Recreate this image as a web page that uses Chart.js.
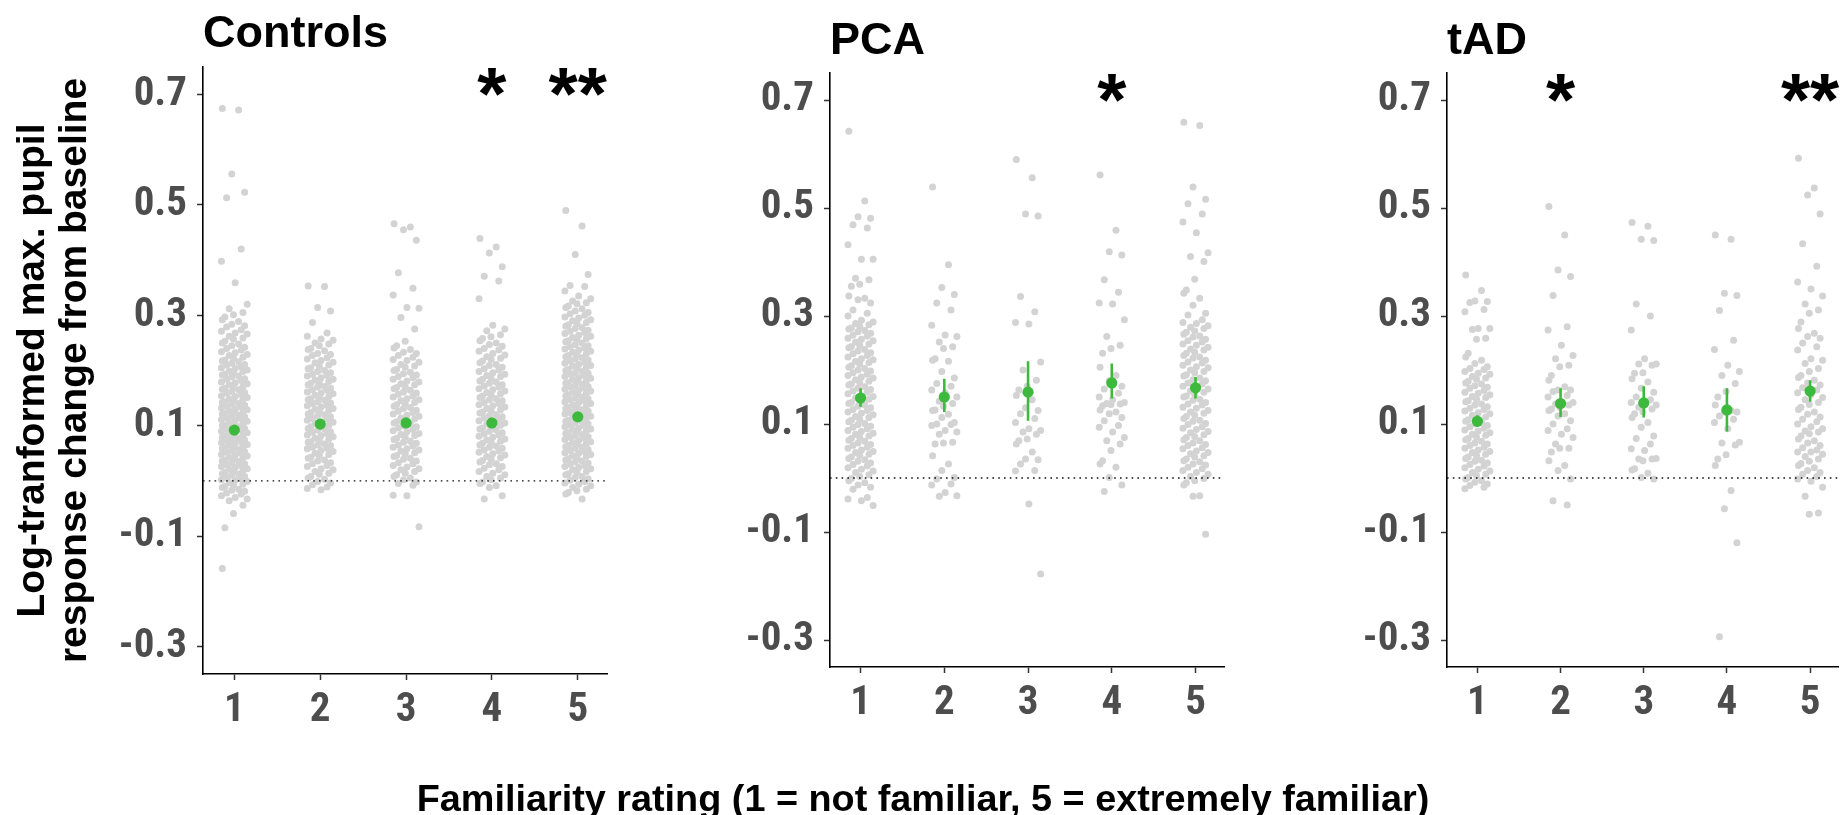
<!DOCTYPE html>
<html><head><meta charset="utf-8">
<script src="https://cdn.jsdelivr.net/npm/chart.js@4.4.1/dist/chart.umd.min.js"></script>
<style>
html,body{margin:0;padding:0;background:#fff;width:1844px;height:815px;overflow:hidden;}
body{position:relative;}
canvas{position:absolute;top:0;}
#xtitle{position:absolute;left:0;top:779px;width:1846px;text-align:center;font:bold 37.8px/38px "Liberation Sans",Arial,sans-serif;color:#000;white-space:nowrap;}
</style></head><body>
<canvas id="c0" width="640" height="815" style="left:0px"></canvas>
<canvas id="c1" width="600" height="815" style="left:640px"></canvas>
<canvas id="c2" width="604" height="815" style="left:1240px"></canvas>
<div id="xtitle">Familiarity rating (1 = not familiar, 5 = extremely familiar)</div>
<script>
// ---------- data ----------
const categories = [1, 2, 3, 4, 5];
const xTickLabels = ["1", "2", "3", "4", "5"];
const yTicks = [-0.3, -0.1, 0.1, 0.3, 0.5, 0.7];
const yTickLabels = ["-0.3", "-0.1", "0.1", "0.3", "0.5", "0.7"];
const panelTitles = ["Controls", "PCA", "tAD"];
const yTitleLines = ["Log-tranformed max. pupil", "response change from baseline"];
const xTitle = "Familiarity rating (1 = not familiar, 5 = extremely familiar)";
const starY = 0.726;
const jitter = [-0.14, 0.05, -0.03, 0.12, -0.09, 0.08, -0.15, 0.01, 0.15, -0.06, 0.10, -0.01, -0.11];

// Controls
const ctrlMean = [0.092, 0.103, 0.105, 0.105, 0.116];
const ctrlLo = [0.086, 0.097, 0.098, 0.098, 0.110];
const ctrlHi = [0.098, 0.109, 0.112, 0.112, 0.122];
const ctrlStars = ["", "", "", "*", "**"];
const ctrl1 = [.675,.672,.556,.523,.513,.42,.398,.359,.32,.312,.305,.301,.297,.292,.289,.284,.281,.279,.274,.271,.268,.266,.262,.259,.257,.253,.25,.248,.245,.242,.24,.237,.234,.232,.229,.227,.224,.222,.219,.217,.216,.213,.211,.21,.207,.205,.204,.201,.199,.198,.196,.193,.192,.19,.188,.185,.184,.182,.179,.178,.176,.174,.171,.17,.168,.166,.165,.162,.16,.159,.157,.154,.153,.151,.149,.148,.146,.143,.142,.14,.139,.137,.135,.134,.132,.13,.129,.127,.125,.124,.122,.121,.119,.117,.116,.114,.113,.111,.109,.108,.106,.105,.103,.101,.1,.098,.097,.095,.093,.092,.09,.089,.087,.085,.084,.082,.081,.079,.077,.076,.074,.073,.071,.069,.068,.066,.065,.063,.061,.06,.058,.057,.055,.053,.052,.05,.048,.047,.045,.043,.042,.04,.038,.036,.035,.033,.031,.029,.028,.026,.024,.022,.021,.019,.017,.015,.013,.012,.01,.008,.006,.004,.002,.001,-.001,-.003,-.006,-.008,-.01,-.012,-.015,-.017,-.019,-.022,-.024,-.027,-.03,-.033,-.036,-.044,-.059,-.085,-.159];
const ctrl2 = [.353,.352,.314,.308,.287,.268,.262,.257,.255,.25,.248,.245,.24,.238,.236,.231,.229,.227,.223,.221,.218,.215,.214,.21,.208,.205,.203,.2,.198,.196,.193,.191,.19,.187,.184,.183,.18,.178,.177,.174,.171,.17,.168,.165,.164,.161,.159,.158,.155,.153,.152,.149,.147,.146,.143,.141,.14,.137,.136,.134,.131,.13,.128,.125,.124,.121,.12,.118,.116,.113,.112,.11,.107,.106,.104,.101,.1,.098,.095,.094,.092,.089,.088,.086,.083,.082,.08,.077,.076,.074,.071,.07,.067,.065,.064,.061,.059,.058,.055,.053,.05,.048,.046,.043,.041,.038,.036,.033,.031,.028,.026,.022,.02,.017,.014,.012,.008,.005,.003,-.001,-.004,-.007,-.011,-.014,-.016];
const ctrl3 = [.466,.46,.455,.436,.377,.349,.337,.314,.313,.296,.275,.253,.245,.241,.238,.233,.231,.227,.224,.22,.218,.215,.211,.208,.206,.202,.2,.197,.194,.192,.189,.187,.184,.181,.179,.176,.174,.171,.169,.167,.164,.161,.159,.157,.154,.152,.149,.147,.145,.142,.14,.138,.135,.133,.131,.128,.126,.124,.121,.119,.117,.114,.112,.11,.107,.105,.103,.1,.098,.096,.093,.091,.089,.086,.084,.082,.079,.077,.075,.072,.07,.068,.065,.063,.061,.058,.056,.054,.051,.049,.046,.044,.041,.039,.036,.033,.031,.028,.025,.022,.02,.017,.014,.011,.008,.005,.002,-.002,-.005,-.008,-.026,-.027,-.083];
const ctrl4 = [.439,.424,.413,.388,.371,.362,.33,.282,.275,.272,.265,.261,.258,.254,.25,.247,.244,.24,.237,.235,.231,.228,.225,.222,.22,.217,.214,.211,.209,.206,.203,.201,.198,.196,.193,.191,.189,.186,.184,.181,.179,.177,.174,.172,.17,.167,.165,.163,.16,.158,.156,.154,.151,.149,.147,.145,.142,.14,.138,.136,.134,.131,.129,.127,.125,.123,.12,.118,.116,.114,.112,.109,.107,.105,.103,.101,.098,.096,.094,.092,.09,.087,.085,.083,.081,.079,.076,.074,.072,.07,.068,.065,.063,.061,.059,.056,.054,.052,.049,.047,.044,.042,.039,.037,.034,.031,.029,.026,.023,.02,.017,.014,.011,.008,.005,.002,-.002,-.005,-.009,-.012,-.027,-.033];
const ctrl5 = [.49,.462,.41,.374,.354,.352,.344,.335,.33,.326,.323,.321,.317,.314,.312,.308,.305,.303,.3,.297,.295,.292,.29,.287,.285,.283,.28,.278,.276,.273,.271,.269,.267,.264,.262,.26,.258,.256,.254,.252,.25,.247,.245,.243,.241,.239,.237,.235,.233,.231,.229,.227,.225,.223,.221,.219,.217,.215,.213,.211,.209,.208,.206,.204,.202,.2,.198,.196,.195,.193,.191,.189,.187,.186,.184,.182,.18,.178,.177,.175,.173,.171,.17,.168,.166,.164,.163,.161,.159,.157,.156,.154,.152,.15,.149,.147,.145,.143,.142,.14,.138,.136,.135,.133,.131,.129,.128,.126,.124,.122,.121,.119,.117,.115,.114,.112,.11,.108,.107,.105,.103,.101,.1,.098,.096,.094,.093,.091,.089,.087,.086,.084,.082,.08,.079,.077,.075,.073,.071,.07,.068,.066,.064,.062,.061,.059,.057,.055,.053,.051,.05,.048,.046,.044,.042,.04,.038,.036,.034,.032,.03,.028,.026,.024,.022,.02,.017,.015,.013,.011,.008,.006,.004,.001,-.001,-.004,-.006,-.009,-.012,-.015,-.018,-.021,-.024,-.033];

// PCA
const pcaMean = [0.148, 0.150, 0.159, 0.176, 0.167];
const pcaLo = [0.132, 0.122, 0.106, 0.147, 0.147];
const pcaHi = [0.166, 0.184, 0.216, 0.212, 0.187];
const pcaStars = ["", "", "", "*", ""];
const pca1 = [.642,.513,.484,.481,.469,.463,.432,.405,.405,.37,.367,.359,.355,.337,.333,.33,.324,.311,.305,.3,.292,.289,.286,.284,.281,.278,.276,.273,.271,.268,.265,.263,.259,.257,.254,.252,.248,.246,.243,.241,.238,.235,.232,.23,.227,.224,.221,.219,.216,.214,.211,.208,.205,.203,.2,.198,.195,.192,.19,.187,.185,.182,.179,.177,.174,.172,.169,.166,.164,.161,.159,.156,.153,.151,.148,.146,.143,.14,.138,.135,.133,.13,.127,.125,.122,.12,.117,.114,.112,.109,.107,.104,.101,.099,.096,.094,.091,.088,.086,.083,.081,.078,.075,.073,.07,.068,.065,.062,.06,.057,.055,.052,.049,.047,.044,.042,.039,.036,.034,.031,.028,.025,.022,.019,.016,.013,.01,.006,.003,-.001,-.005,-.009,-.013,-.017,-.021,-.036,-.039,-.042,-.051];
const pca2 = [.539,.395,.353,.34,.324,.311,.283,.265,.262,.252,.243,.24,.221,.218,.216,.197,.185,.175,.17,.163,.158,.15,.142,.138,.133,.126,.125,.118,.112,.103,.1,.099,.097,.088,.085,.081,.066,.065,.063,.041,.026,.014,.001,-.002,-.011,-.013,-.027,-.033,-.034];
const pca3 = [.59,.556,.489,.485,.336,.308,.288,.285,.215,.2,.181,.17,.163,.153,.145,.13,.125,.119,.11,.103,.091,.088,.085,.081,.072,.069,.063,.048,.035,.034,.026,.014,.013,-.048,-.178];
const pca4 = [.561,.459,.419,.413,.367,.344,.324,.322,.293,.262,.246,.24,.231,.205,.19,.18,.17,.165,.157,.15,.145,.14,.138,.137,.136,.134,.126,.122,.119,.112,.106,.097,.094,.085,.075,.069,.063,.051,.032,.026,.02,.001,-.013,-.025];
const pca5 = [.659,.653,.539,.516,.508,.489,.474,.454,.417,.41,.401,.368,.348,.342,.333,.32,.305,.302,.293,.288,.286,.282,.279,.277,.272,.27,.266,.263,.261,.257,.254,.252,.248,.246,.242,.239,.237,.233,.231,.227,.224,.222,.218,.215,.213,.209,.206,.204,.2,.197,.195,.191,.189,.185,.182,.18,.176,.174,.17,.167,.165,.161,.159,.155,.152,.15,.146,.144,.14,.137,.135,.131,.129,.125,.122,.12,.116,.114,.11,.107,.105,.101,.099,.095,.092,.09,.086,.084,.08,.077,.075,.071,.069,.065,.062,.06,.056,.054,.05,.047,.045,.041,.039,.035,.032,.03,.026,.024,.02,.017,.014,.01,.007,.003,-.001,-.005,-.009,-.013,-.033,-.034,-.104];

// tAD
const tadMean = [0.105, 0.138, 0.139, 0.126, 0.161];
const tadLo = [0.095, 0.113, 0.112, 0.086, 0.141];
const tadHi = [0.116, 0.166, 0.170, 0.166, 0.181];
const tadStars = ["", "*", "", "", "**"];
const tad1 = [.376,.347,.328,.327,.325,.312,.308,.277,.277,.275,.259,.257,.231,.224,.218,.212,.206,.203,.201,.197,.194,.192,.188,.185,.183,.179,.176,.174,.171,.168,.166,.162,.159,.157,.154,.151,.149,.146,.143,.141,.137,.135,.132,.129,.127,.124,.121,.119,.116,.113,.111,.108,.105,.103,.1,.097,.095,.092,.089,.087,.084,.081,.079,.076,.073,.071,.068,.065,.063,.06,.057,.055,.052,.049,.047,.044,.041,.039,.036,.033,.031,.028,.025,.022,.019,.016,.013,.01,.007,.004,.001,-.002,-.005,-.008,-.011,-.014,-.017,-.02];
const tad2 = [.503,.45,.385,.373,.338,.28,.274,.246,.227,.221,.209,.206,.19,.181,.169,.163,.163,.16,.153,.15,.141,.14,.137,.135,.131,.128,.125,.119,.115,.106,.1,.091,.088,.081,.075,.063,.055,.055,.048,.032,.023,.014,-.002,-.042,-.05];
const tad3 = [.473,.466,.442,.44,.322,.3,.274,.221,.211,.211,.209,.195,.194,.184,.178,.166,.159,.15,.145,.14,.138,.135,.131,.128,.122,.119,.112,.103,.094,.078,.073,.063,.054,.051,.036,.035,.035,.032,.017,.015,.009,.001,-.002];
const tad4 = [.45,.442,.342,.338,.31,.255,.238,.209,.197,.19,.175,.16,.15,.135,.125,.122,.122,.115,.109,.103,.091,.066,.065,.061,.043,.035,.023,-.023,-.057,-.12,-.294];
const tad5 = [.592,.537,.524,.489,.434,.392,.363,.35,.337,.322,.311,.305,.289,.277,.268,.262,.259,.25,.243,.237,.221,.218,.212,.203,.197,.19,.186,.181,.176,.172,.167,.163,.158,.154,.149,.145,.14,.136,.131,.127,.122,.118,.113,.109,.104,.1,.095,.091,.087,.085,.082,.078,.072,.069,.065,.06,.056,.052,.048,.048,.044,.04,.035,.031,.027,.023,.019,.014,.01,.007,.003,-.002,-.006,-.017,-.034,-.065,-.067];

// ---------- rendering ----------
const X_MIN = 0.635, X_MAX = 5.34, Y_MIN = -0.35, Y_MAX = 0.75;
const GREEN = '#3DBA3D', GREY = '#D3D3D3';
const FONT = '"Liberation Sans", Arial, sans-serif';
Chart.defaults.font.family = FONT;

// pick a condensed bold face for the tick labels if one is installed
function pickNarrow() {
  const c = document.createElement('canvas').getContext('2d');
  const probe = '0.7 -0.3 12345';
  c.font = 'bold 41px monospace';
  const base = c.measureText(probe).width;
  const cands = ['Liberation Sans Narrow', 'Arial Narrow', 'Noto Sans Condensed', 'Roboto Condensed', 'Open Sans Condensed', 'Noto Sans Display Condensed'];
  for (const f of cands) {
    c.font = 'bold 41px "' + f + '", monospace';
    if (Math.abs(c.measureText(probe).width - base) > 0.5) return f;
  }
  return null;
}
const narrow = pickNarrow();
const tickFont = narrow ? { family: '"' + narrow + '", ' + FONT, size: 41, weight: 'bold' }
                        : { family: FONT, size: 36, weight: 'bold' };

const annot = {
  id: 'annot',
  afterDraw(chart) {
    const o = chart.options.plugins.annot;
    const ctx = chart.ctx, a = chart.chartArea, xs = chart.scales.x, ys = chart.scales.y;
    ctx.save();
    ctx.fillStyle = '#000';
    ctx.textAlign = 'left'; ctx.textBaseline = 'alphabetic';
    ctx.font = 'bold 45px ' + FONT;
    ctx.fillText(o.title, a.left, o.titleY);
    ctx.font = 'bold 75px ' + FONT;
    ctx.textAlign = 'center';
    o.stars.forEach((s, i) => { if (s) ctx.fillText(s, xs.getPixelForValue(categories[i]), ys.getPixelForValue(starY) + 39); });
    if (o.ytitle) {
      ctx.translate(0, (a.top + a.bottom) / 2);
      ctx.rotate(-Math.PI / 2);
      ctx.font = 'bold 39px ' + FONT;
      ctx.fillText(o.ytitle[0], 0, 44);
      ctx.fillText(o.ytitle[1], 0, 86);
    }
    ctx.restore();
  }
};

function makePanel(id, spec) {
  const gray = [];
  spec.pts.forEach((arr, i) => arr.forEach((v, j) => gray.push({ x: categories[i] + jitter[j % jitter.length], y: v })));
  const errs = [];
  categories.forEach((c, i) => { errs.push({ x: c, y: spec.lo[i] }, { x: c, y: spec.hi[i] }, { x: c, y: null }); });
  const means = categories.map((c, i) => ({ x: c, y: spec.mean[i] }));
  new Chart(document.getElementById(id), {
    type: 'scatter',
    data: { datasets: [
      { data: means, pointRadius: 5.6, backgroundColor: GREEN, borderWidth: 0, order: 1 },
      { type: 'line', data: errs, borderColor: GREEN, borderWidth: 2.6, pointRadius: 0, spanGaps: false, order: 2 },
      { type: 'line', data: [{ x: X_MIN, y: 0 }, { x: X_MAX, y: 0 }], borderColor: '#111', borderWidth: 1.4, borderDash: [1.6, 4.2], pointRadius: 0, order: 3 },
      { data: gray, pointRadius: 3.5, backgroundColor: GREY, borderWidth: 0, order: 4 }
    ] },
    options: {
      responsive: false, animation: false, events: [],
      layout: { padding: { top: spec.top, right: spec.padR, left: 0, bottom: 0 } },
      plugins: { legend: { display: false }, tooltip: { enabled: false },
        annot: { title: spec.title, titleY: spec.titleY, stars: spec.stars, ytitle: spec.ytitle } },
      scales: {
        x: { type: 'linear', min: X_MIN, max: X_MAX,
          afterFit: s => { s.height = spec.xh; },
          afterBuildTicks: s => { s.ticks = categories.map(v => ({ value: v })); },
          ticks: { autoSkip: false, maxRotation: 0, font: tickFont, color: '#4D4D4D', padding: narrow ? 6 : 4,
            callback: (v, i) => xTickLabels[i] },
          grid: { drawOnChartArea: false, drawTicks: true, tickLength: 6, tickColor: '#333', tickWidth: 1.5 },
          border: { display: true, color: '#000', width: 1.6 } },
        y: { type: 'linear', min: Y_MIN, max: Y_MAX,
          afterFit: s => { s.width = spec.yw; },
          afterBuildTicks: s => { s.ticks = yTicks.map(v => ({ value: v })); },
          ticks: { autoSkip: false, font: tickFont, color: '#4D4D4D', padding: 10,
            callback: (v, i) => yTickLabels[i] },
          grid: { drawOnChartArea: false, drawTicks: true, tickLength: 6, tickColor: '#333', tickWidth: 1.5 },
          border: { display: true, color: '#000', width: 1.6 } }
      }
    },
    plugins: [annot]
  });
}

makePanel('c0', { title: panelTitles[0], titleY: 47, stars: ctrlStars, ytitle: yTitleLines,
  pts: [ctrl1, ctrl2, ctrl3, ctrl4, ctrl5], mean: ctrlMean, lo: ctrlLo, hi: ctrlHi,
  top: 67, padR: 33, yw: 203, xh: 141 });
makePanel('c1', { title: panelTitles[1], titleY: 54, stars: pcaStars, ytitle: null,
  pts: [pca1, pca2, pca3, pca4, pca5], mean: pcaMean, lo: pcaLo, hi: pcaHi,
  top: 73, padR: 16, yw: 190, xh: 148 });
makePanel('c2', { title: panelTitles[2], titleY: 54, stars: tadStars, ytitle: null,
  pts: [tad1, tad2, tad3, tad4, tad5], mean: tadMean, lo: tadLo, hi: tadHi,
  top: 73, padR: 4, yw: 207, xh: 148 });
document.getElementById('xtitle').textContent = xTitle;
</script>
</body></html>
